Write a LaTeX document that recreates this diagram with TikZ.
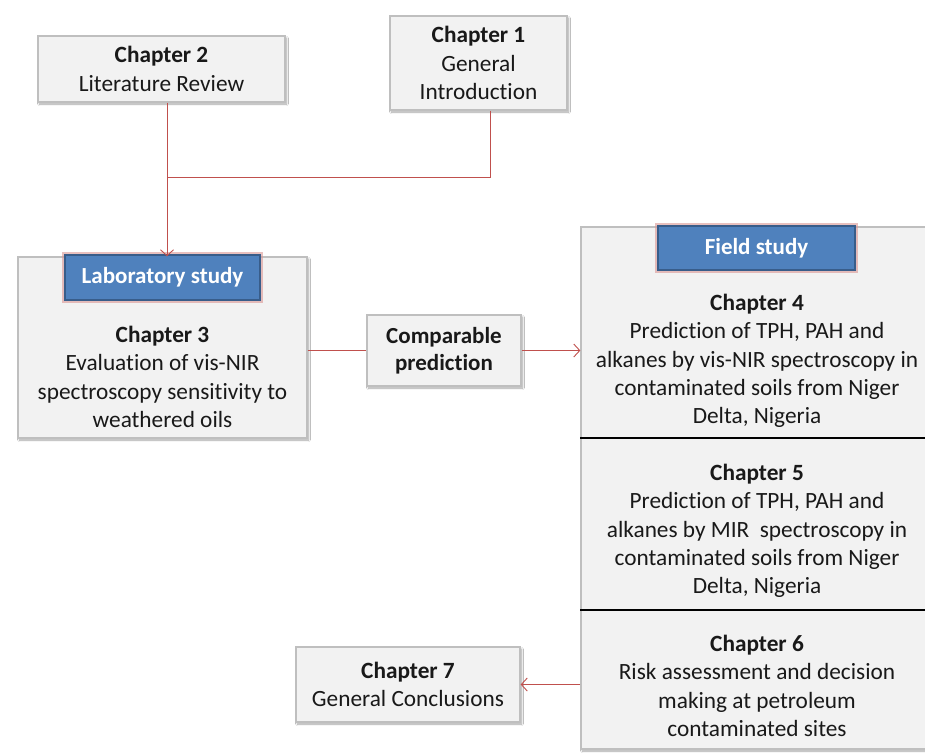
\documentclass[tikz,border=0pt]{standalone}
\usepackage{fontspec}
\setmainfont{Carlito}[Ligatures={NoCommon}]
\usetikzlibrary{arrows.meta,shadows.blur}
\definecolor{linkred}{HTML}{C0504D}
\definecolor{labblue}{HTML}{4F81BD}
\definecolor{labedge}{HTML}{385D8A}
\definecolor{boxgray}{HTML}{F2F2F2}
\tikzset{
  chapbox/.style={fill=boxgray, draw=gray!50, line width=1.3pt,
    preaction={draw=white, line width=9pt},
    blur shadow={shadow xshift=1.5pt, shadow yshift=-2pt, shadow blur steps=6, shadow opacity=35}},
  studylabel/.style={fill=labblue, draw=labedge, line width=1.5pt, text=white,
    font=\bfseries\fontsize{23}{26}\selectfont,
    preaction={draw=linkred!60, line width=6pt, opacity=.6}},
  chaptext/.style={align=center, text=black!90, font=\fontsize{23.3}{28.4}\selectfont},
  link/.style={draw=linkred, line width=0.9pt},
  >={Straight Barb[length=6pt,width=13pt]}
}
\begin{document}
\begin{tikzpicture}[x=1pt,y=-1pt]
	\useasboundingbox (0,0) rectangle (925,753);
	\clip (0,0) rectangle (925,753);
	% Boxes
	\node [chapbox, minimum width=247, minimum height=66] (ch2) at (161.5,69) {};
	\node [chaptext] at (ch2) {\textbf{Chapter 2}\\Literature Review};
	\node [chapbox, minimum width=177, minimum height=94] (ch1) at (478.5,63) {};
	\node [chaptext] at (ch1) {\textbf{Chapter 1}\\General\\Introduction};
	\node [chapbox, minimum width=289, minimum height=181] (lab) at (162.5,347.5) {};
	\node [studylabel, minimum width=195, minimum height=45] (lablabel) at (162.5,277.5) {Laboratory study};
	\node [chaptext] (ch3) at (162.5,377) {\textbf{Chapter 3}\\Evaluation of vis-NIR\\spectroscopy sensitivity to\\weathered oils};
	\node [chapbox, minimum width=154, minimum height=71] (comp) at (444,350.5) {};
	\node [chaptext, font=\bfseries\fontsize{23}{27}\selectfont] at (comp) {Comparable\\prediction};
	\node [chapbox, minimum width=357, minimum height=522] (field) at (759.5,488) {};
	\node [studylabel, minimum width=197, minimum height=44] (fieldlabel) at (756.5,248) {Field study};
	\node [chaptext] (ch4) at (757,361) {\textbf{Chapter 4}\\Prediction of TPH, PAH and\\alkanes by vis-NIR spectroscopy\ in\\contaminated soils from Niger\\Delta, Nigeria};
	\node [chaptext] (ch5) at (757,531) {\textbf{Chapter 5}\\Prediction of TPH, PAH and\\alkanes by MIR\ \ spectroscopy in\\contaminated soils from Niger\\Delta, Nigeria};
	\node [chaptext] (ch6) at (757,686) {\textbf{Chapter 6}\\Risk assessment\ and decision\\making at petroleum\\contaminated sites};
	\node [chapbox, minimum width=224, minimum height=75] (ch7) at (408,684.5) {};
	\node [chaptext] at (ch7) {\textbf{Chapter 7}\\General Conclusions};
	% Dividers
	\draw [black, line width=1.3pt] (field.west |- 0,438) -- (field.east |- 0,438);
	\draw [black, line width=1.3pt] (field.west |- 0,610) -- (field.east |- 0,610);
	% Links
	\coordinate (join) at ([xshift=5.5pt]ch2.south |- 0,177);
	\draw [link] ([xshift=11.5pt]ch1.south) |- (join);
	\draw [link,->] ([xshift=5.5pt]ch2.south) -- ([xshift=5.5pt]ch2.south |- lab.north);
	\draw [link] (comp.west -| lab.east) -- (comp.west);
	\draw [link,->] (comp.east) -- (comp.east -| field.west);
	\draw [link,->] (ch7.east -| field.west) -- (ch7.east);
\end{tikzpicture}
\end{document}
